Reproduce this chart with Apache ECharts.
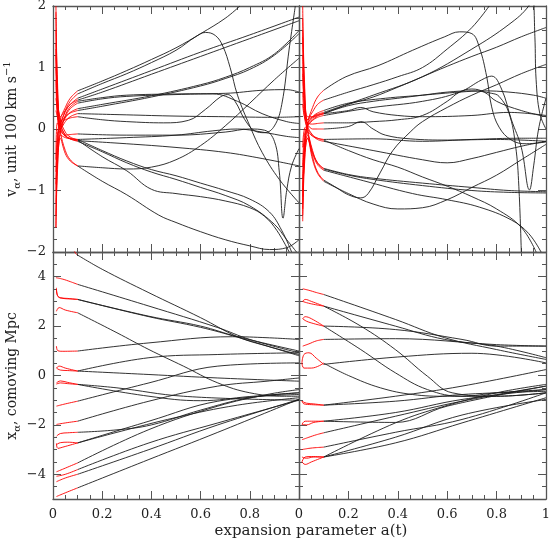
<!DOCTYPE html>
<html>
<head>
<meta charset="utf-8">
<script src="https://cdn.jsdelivr.net/npm/echarts@6.0.0/dist/echarts.min.js"></script>
<style>
html, body { margin: 0; padding: 0; background: #fff; }
#chart { width: 554px; height: 546px; }
</style>
</head>
<body>
<div id="chart"></div>
<script>
// x ticks (expansion parameter) and y ticks for both rows
const aTicks = [0, 0.2, 0.4, 0.6, 0.8, 1];
const vTicks = [-2, -1, 0, 1, 2];
const xTicks = [-4, -2, 0, 2, 4];

// top left: velocities, red = a < 0.1, black = a >= 0.1
const tlRed = [
  [[0.012,-1.2],[0.018,-0.3],[0.03,0.15],[0.05,0.35],[0.07,0.5],[0.1,0.62]],
  [[0.012,1.6],[0.018,0.6],[0.03,0.1],[0.05,0.3],[0.07,0.45],[0.1,0.57]],
  [[0.012,-1.6],[0.018,-0.5],[0.03,0.05],[0.05,0.28],[0.07,0.4],[0.1,0.5]],
  [[0.012,2.0],[0.018,0.8],[0.03,0.2],[0.05,0.3],[0.07,0.4],[0.1,0.47]],
  [[0.012,-0.9],[0.018,-0.2],[0.03,0.1],[0.05,0.2],[0.07,0.26],[0.1,0.3]],
  [[0.012,1.3],[0.018,0.45],[0.03,0.05],[0.05,0.18],[0.07,0.27],[0.1,0.33]],
  [[0.012,-1.4],[0.018,-0.6],[0.03,-0.05],[0.05,0.22],[0.07,0.36],[0.1,0.45]],
  [[0.012,1.0],[0.018,0.3],[0.03,0.0],[0.05,0.2],[0.07,0.33],[0.1,0.42]],
  [[0.012,-0.7],[0.018,-0.1],[0.03,0.1],[0.05,0.15],[0.07,0.18],[0.1,0.2]],
  [[0.012,0.8],[0.018,0.2],[0.03,0.0],[0.05,0.12],[0.07,0.2],[0.1,0.25]],
  [[0.012,1.9],[0.018,0.7],[0.03,0.0],[0.05,-0.1],[0.07,-0.09],[0.1,-0.08]],
  [[0.012,-0.5],[0.018,0.1],[0.03,0.0],[0.05,-0.12],[0.07,-0.15],[0.1,-0.17]],
  [[0.012,1.2],[0.018,0.5],[0.03,0.1],[0.05,-0.1],[0.07,-0.16],[0.1,-0.19]],
  [[0.012,0.5],[0.018,0.3],[0.03,-0.05],[0.05,-0.35],[0.07,-0.5],[0.1,-0.6]],
  [[0.012,-1.6],[0.018,-0.7],[0.03,-0.15],[0.05,-0.4],[0.07,-0.52],[0.1,-0.6]],
  [[0.012,1.4],[0.018,0.5],[0.03,0.15],[0.05,-0.05],[0.07,-0.13],[0.1,-0.18]],
  [[0.012,-1.0],[0.018,-0.4],[0.03,-0.1],[0.05,-0.14],[0.07,-0.16],[0.1,-0.17]],
  [[0.012,0.3],[0.018,0.2],[0.03,0.05],[0.05,-0.1],[0.07,-0.16],[0.1,-0.2]]
];
const tlBlack = [
  [[0.1,0.62],[0.2,0.78],[0.3,0.95],[0.4,1.13],[0.5,1.32],[0.6,1.55],[0.7,1.8],[0.76,2.0]],
  [[0.1,0.57],[0.2,0.74],[0.3,0.9],[0.4,1.08],[0.5,1.28],[0.58,1.5],[0.62,1.57],[0.66,1.52],[0.69,1.35],[0.72,1.0],[0.75,0.55],[0.8,0.05],[0.85,-0.38],[0.92,-0.82],[1.0,-1.2]],
  [[0.1,0.5],[0.2,0.65],[0.4,0.95],[0.6,1.25],[0.8,1.53],[1.0,1.82]],
  [[0.1,0.47],[0.2,0.6],[0.4,0.89],[0.6,1.18],[0.8,1.47],[1.0,1.76]],
  [[0.1,0.3],[0.2,0.37],[0.4,0.52],[0.6,0.7],[0.7,0.82],[0.8,0.97],[0.9,1.2],[1.0,1.55]],
  [[0.1,0.33],[0.2,0.4],[0.4,0.54],[0.6,0.72],[0.7,0.84],[0.8,1.0],[0.9,1.22],[1.0,1.6]],
  [[0.1,0.45],[0.2,0.51],[0.3,0.55],[0.5,0.57],[0.7,0.58],[0.85,0.63],[0.95,0.64],[1.0,0.6]],
  [[0.1,0.42],[0.2,0.49],[0.3,0.53],[0.5,0.56],[0.65,0.57],[0.75,0.45],[0.85,0.25],[0.95,0.12],[1.0,0.09]],
  [[0.1,0.2],[0.2,0.15],[0.3,0.12],[0.45,0.1],[0.55,0.14],[0.62,0.32],[0.68,0.52],[0.71,0.56],[0.74,0.45],[0.78,0.15],[0.82,-0.03],[0.86,-0.06],[0.9,0.05],[0.93,0.4],[0.96,1.3],[0.985,2.0]],
  [[0.1,0.25],[0.3,0.23],[0.5,0.21],[0.7,0.2],[0.9,0.19],[1.0,0.2]],
  [[0.1,-0.08],[0.3,-0.1],[0.5,-0.1],[0.7,-0.05],[0.8,0.0],[0.86,-0.02],[0.9,-0.2],[0.92,-0.7],[0.935,-1.45],[0.95,-1.0],[0.97,-0.6],[1.0,-0.32]],
  [[0.1,-0.17],[0.3,-0.14],[0.5,-0.1],[0.65,-0.03],[0.75,0.0],[0.85,-0.05],[0.95,-0.12],[1.0,-0.14]],
  [[0.1,-0.19],[0.3,-0.24],[0.5,-0.3],[0.7,-0.38],[0.85,-0.48],[1.0,-0.6]],
  [[0.1,-0.6],[0.2,-0.63],[0.3,-0.65],[0.4,-0.62],[0.5,-0.5],[0.6,-0.27],[0.7,0.05],[0.8,0.42],[0.9,0.8],[1.0,1.15]],
  [[0.1,-0.6],[0.2,-0.85],[0.3,-1.07],[0.43,-1.4],[0.5,-1.52],[0.6,-1.67],[0.7,-1.8],[0.8,-1.9],[0.88,-1.96],[0.95,-1.93],[1.0,-1.8]],
  [[0.1,-0.18],[0.2,-0.45],[0.3,-0.68],[0.4,-0.98],[0.5,-1.05],[0.6,-1.1],[0.7,-1.17],[0.8,-1.28],[0.86,-1.42],[0.91,-1.65],[0.96,-2.0]],
  [[0.1,-0.17],[0.2,-0.35],[0.3,-0.52],[0.4,-0.66],[0.5,-0.76],[0.6,-0.88],[0.7,-1.0],[0.8,-1.14],[0.88,-1.35],[0.93,-1.65],[0.97,-2.0]],
  [[0.1,-0.2],[0.2,-0.37],[0.3,-0.55],[0.4,-0.7],[0.5,-0.82],[0.6,-0.95],[0.7,-1.08],[0.8,-1.25],[0.9,-1.55],[0.95,-1.8],[0.99,-2.0]]
];

// top right: velocities
const trRed = [
  [[0.015,-1.4],[0.022,-0.4],[0.035,0.1],[0.055,0.35],[0.075,0.52],[0.1,0.63]],
  [[0.015,1.8],[0.022,0.7],[0.035,0.15],[0.055,0.28],[0.075,0.4],[0.1,0.47]],
  [[0.015,-1.0],[0.022,-0.2],[0.035,0.05],[0.055,0.15],[0.075,0.21],[0.1,0.25]],
  [[0.015,1.2],[0.022,0.5],[0.035,0.15],[0.055,0.2],[0.075,0.24],[0.1,0.27]],
  [[0.015,-0.6],[0.022,-0.1],[0.035,0.05],[0.055,0.14],[0.075,0.19],[0.1,0.22]],
  [[0.015,2.0],[0.022,0.8],[0.035,0.2],[0.055,0.2],[0.075,0.23],[0.1,0.25]],
  [[0.015,1.5],[0.022,0.5],[0.035,0.0],[0.055,-0.35],[0.075,-0.55],[0.1,-0.65]],
  [[0.015,-1.5],[0.022,-0.6],[0.035,-0.15],[0.055,-0.4],[0.075,-0.58],[0.1,-0.67]],
  [[0.015,0.9],[0.022,0.3],[0.035,-0.05],[0.055,-0.45],[0.075,-0.7],[0.1,-0.83]],
  [[0.015,-1.2],[0.022,-0.5],[0.035,-0.15],[0.055,-0.5],[0.075,-0.72],[0.1,-0.85]],
  [[0.015,0.6],[0.022,0.2],[0.035,0.0],[0.055,-0.1],[0.075,-0.15],[0.1,-0.18]],
  [[0.015,-0.8],[0.022,-0.3],[0.035,-0.05],[0.055,-0.12],[0.075,-0.15],[0.1,-0.17]],
  [[0.015,1.0],[0.022,0.4],[0.035,0.05],[0.055,-0.1],[0.075,-0.17],[0.1,-0.2]],
  [[0.015,-1.3],[0.022,-0.4],[0.035,0.08],[0.055,0.2],[0.075,0.26],[0.1,0.3]],
  [[0.015,0.4],[0.022,0.2],[0.035,0.1],[0.055,0.08],[0.075,0.09],[0.1,0.1]],
  [[0.015,-0.3],[0.022,0.0],[0.035,0.05],[0.055,0.0],[0.075,0.0],[0.1,0.0]],
  [[0.015,1.6],[0.022,0.6],[0.035,0.1],[0.055,0.18],[0.075,0.22],[0.1,0.25]],
  [[0.015,-1.1],[0.022,-0.4],[0.035,-0.1],[0.055,-0.38],[0.075,-0.55],[0.1,-0.64]]
];
const trBlack = [
  [[0.1,0.63],[0.19,0.85],[0.32,1.03],[0.46,1.28],[0.59,1.5],[0.65,1.58],[0.7,1.55],[0.73,1.33],[0.76,0.85],[0.78,0.36],[0.81,0.03],[0.86,-0.18],[0.92,-0.24],[1.0,-0.21]],
  [[0.1,0.47],[0.2,0.6],[0.3,0.72],[0.4,0.85],[0.5,1.0],[0.6,1.3],[0.7,1.65],[0.77,2.0]],
  [[0.1,0.25],[0.2,0.4],[0.3,0.52],[0.4,0.68],[0.5,0.85],[0.6,1.02],[0.7,1.18],[0.8,1.33],[0.9,1.5],[1.0,1.65]],
  [[0.1,0.27],[0.3,0.55],[0.5,0.85],[0.7,1.3],[0.85,1.7],[0.93,2.0],[0.945,2.2],[0.955,1.5],[0.96,0.8],[0.975,0.25],[1.0,0.0]],
  [[0.1,0.22],[0.3,0.35],[0.5,0.45],[0.65,0.6],[0.74,0.8],[0.78,0.86],[0.82,0.65],[0.86,0.15],[0.9,-0.3],[0.933,-0.99],[0.95,-0.6],[0.97,0.0],[1.0,0.5]],
  [[0.1,0.25],[0.2,0.38],[0.3,0.45],[0.4,0.5],[0.5,0.55],[0.6,0.6],[0.7,0.62],[0.78,0.58],[0.81,0.53],[0.85,0.26],[0.877,-0.28],[0.89,-0.93],[0.9,-2.0]],
  [[0.1,-0.65],[0.2,-0.75],[0.3,-0.82],[0.5,-0.92],[0.7,-1.0],[0.85,-1.03],[1.0,-1.04]],
  [[0.1,-0.67],[0.26,-0.84],[0.46,-1.05],[0.6,-1.15],[0.73,-1.27],[0.86,-1.48],[0.93,-1.7],[0.98,-2.0]],
  [[0.1,-0.83],[0.15,-0.95],[0.2,-1.07],[0.25,-1.12],[0.28,-1.05],[0.33,-0.7],[0.38,-0.35],[0.45,-0.05],[0.5,0.12],[0.6,0.35],[0.7,0.55],[0.8,0.72],[0.9,0.9],[1.0,1.05]],
  [[0.1,-0.85],[0.2,-1.05],[0.3,-1.22],[0.4,-1.3],[0.5,-1.28],[0.6,-1.15],[0.7,-0.95],[0.8,-0.75],[0.9,-0.5],[1.0,-0.25]],
  [[0.1,-0.18],[0.2,-0.35],[0.3,-0.5],[0.4,-0.62],[0.5,-0.78],[0.6,-0.93],[0.7,-1.1],[0.8,-1.3],[0.9,-1.6],[0.96,-2.0]],
  [[0.1,-0.17],[0.3,-0.16],[0.5,-0.2],[0.7,-0.17],[0.9,-0.15],[1.0,-0.15]],
  [[0.1,-0.2],[0.3,-0.35],[0.5,-0.5],[0.6,-0.55],[0.7,-0.48],[0.8,-0.38],[0.9,-0.28],[1.0,-0.2]],
  [[0.1,0.3],[0.2,0.42],[0.35,0.5],[0.5,0.55],[0.65,0.6],[0.75,0.62],[0.85,0.6],[0.95,0.55],[1.0,0.5]],
  [[0.1,0.1],[0.2,0.1],[0.3,0.12],[0.4,0.15],[0.5,0.22],[0.6,0.45],[0.65,0.6],[0.7,0.65],[0.75,0.6],[0.8,0.45],[0.9,0.3],[1.0,0.2]],
  [[0.1,0.0],[0.2,0.04],[0.25,0.12],[0.3,0.0],[0.35,-0.1],[0.45,-0.16],[0.6,-0.18],[0.8,-0.17],[1.0,-0.2]],
  [[0.1,0.25],[0.2,0.3],[0.25,0.35],[0.3,0.28],[0.4,0.22],[0.5,0.2],[0.7,0.22],[0.85,0.27],[1.0,0.22]],
  [[0.1,-0.64],[0.2,-0.74],[0.3,-0.8],[0.5,-0.88],[0.7,-0.95],[0.85,-1.0],[1.0,-1.02]]
];

// bottom left: comoving positions
const blRed = [
  [[0.07,5.3],[0.085,5.05],[0.096,4.9]],
  [[0.012,3.96],[0.04,3.9],[0.07,3.8],[0.1,3.69]],
  [[0.014,3.55],[0.018,3.25],[0.03,3.15],[0.06,3.12],[0.1,3.08]],
  [[0.014,3.5],[0.02,3.2],[0.04,3.12],[0.07,3.1],[0.1,3.08]],
  [[0.014,2.6],[0.025,2.75],[0.05,2.65],[0.1,2.54]],
  [[0.014,1.19],[0.02,1.0],[0.04,0.98],[0.1,0.99]],
  [[0.014,0.3],[0.025,0.38],[0.05,0.3],[0.1,0.18]],
  [[0.014,0.3],[0.03,0.22],[0.06,0.2],[0.1,0.18]],
  [[0.014,-0.3],[0.03,-0.22],[0.06,-0.28],[0.1,-0.36]],
  [[0.014,-0.35],[0.03,-0.3],[0.06,-0.33],[0.1,-0.36]],
  [[0.014,-1.24],[0.05,-1.15],[0.1,-1.04]],
  [[0.014,-1.98],[0.05,-1.92],[0.1,-1.85]],
  [[0.014,-2.46],[0.03,-2.35],[0.06,-2.32],[0.1,-2.3]],
  [[0.014,-2.75],[0.02,-2.95],[0.04,-2.9],[0.1,-2.73]],
  [[0.014,-2.8],[0.03,-2.72],[0.06,-2.7],[0.1,-2.73]],
  [[0.014,-3.9],[0.05,-3.75],[0.1,-3.54]],
  [[0.014,-4.08],[0.05,-4.0],[0.1,-3.81]],
  [[0.014,-4.3],[0.05,-4.15],[0.1,-4.0]],
  [[0.014,-4.9],[0.05,-4.75],[0.1,-4.55]]
];
const blBlack = [
  [[0.096,4.9],[0.2,4.3],[0.39,3.35],[0.6,2.34],[0.75,1.57],[0.87,1.19],[1.0,0.85]],
  [[0.1,3.69],[0.39,2.81],[0.67,1.94],[0.8,1.46],[1.0,0.92]],
  [[0.1,3.08],[0.39,2.4],[0.6,2.0],[0.75,1.57],[1.0,0.99]],
  [[0.1,3.08],[0.39,2.38],[0.6,1.95],[0.75,1.55],[1.0,0.8]],
  [[0.1,2.54],[0.26,1.73],[0.39,1.05],[0.53,0.38],[0.67,-0.3],[0.8,-0.7],[0.94,-0.84],[1.0,-0.84]],
  [[0.1,0.99],[0.39,1.32],[0.73,1.57],[0.87,1.53],[1.0,1.46]],
  [[0.1,0.18],[0.39,0.72],[0.67,0.85],[1.0,0.92]],
  [[0.1,0.18],[0.39,0.04],[0.67,-0.1],[1.0,-0.23]],
  [[0.1,-0.36],[0.39,-0.84],[0.6,-1.02],[0.8,-0.85],[1.0,-0.7]],
  [[0.1,-0.36],[0.26,-0.5],[0.53,-0.84],[1.0,-1.0]],
  [[0.1,-1.04],[0.39,-0.3],[0.67,0.38],[1.0,0.51]],
  [[0.1,-1.85],[0.39,-1.04],[0.67,-0.43],[0.87,-0.23],[1.0,-0.1]],
  [[0.1,-2.3],[0.26,-2.2],[0.4,-2.0],[0.6,-1.4],[0.8,-0.9],[1.0,-0.7]],
  [[0.1,-2.73],[0.39,-1.85],[0.67,-1.04],[1.0,-0.77]],
  [[0.1,-2.73],[0.26,-2.3],[0.5,-1.7],[0.75,-1.2],[1.0,-0.9]],
  [[0.1,-3.54],[0.39,-2.19],[0.67,-1.24],[0.87,-0.77],[1.0,-0.57]],
  [[0.1,-3.81],[0.39,-2.73],[0.67,-1.92],[1.0,-1.0]],
  [[0.1,-4.0],[0.39,-3.0],[0.67,-2.0],[1.0,-0.97]],
  [[0.1,-4.55],[0.39,-3.4],[0.67,-2.3],[1.0,-0.96]]
];

// bottom right: comoving positions
const brRed = [
  [[0.015,3.51],[0.04,3.45],[0.07,3.36],[0.1,3.28]],
  [[0.015,3.0],[0.025,3.08],[0.05,3.0],[0.1,2.81]],
  [[0.015,3.0],[0.03,2.95],[0.06,2.88],[0.1,2.81]],
  [[0.015,2.3],[0.025,2.38],[0.05,2.3],[0.1,2.0]],
  [[0.015,2.3],[0.03,2.2],[0.06,2.1],[0.1,2.0]],
  [[0.015,1.19],[0.04,1.28],[0.07,1.4],[0.1,1.46]],
  [[0.012,0.5],[0.02,0.85],[0.04,0.92],[0.07,0.7],[0.1,0.45]],
  [[0.012,0.5],[0.02,0.3],[0.05,0.3],[0.1,0.5]],
  [[0.012,-1.04],[0.03,-1.12],[0.06,-1.15],[0.1,-1.2]],
  [[0.012,-1.04],[0.02,-1.15],[0.05,-1.18],[0.1,-1.2]],
  [[0.012,-1.98],[0.025,-1.85],[0.06,-1.85],[0.1,-1.85]],
  [[0.012,-1.98],[0.03,-2.0],[0.06,-1.9],[0.1,-1.85]],
  [[0.012,-2.6],[0.04,-2.5],[0.07,-2.4],[0.1,-2.32]],
  [[0.012,-3.5],[0.025,-3.3],[0.05,-3.28],[0.1,-3.3]],
  [[0.012,-3.5],[0.025,-3.6],[0.05,-3.5],[0.1,-3.3]],
  [[0.012,-3.0],[0.04,-2.95],[0.07,-2.92],[0.1,-2.9]],
  [[0.012,-3.3],[0.03,-3.35],[0.06,-3.3],[0.1,-3.3]]
];
const brBlack = [
  [[0.1,3.28],[0.39,2.27],[0.59,1.53],[0.8,1.05],[1.0,0.65]],
  [[0.1,2.81],[0.39,2.0],[0.59,1.46],[0.8,1.19],[1.0,0.72]],
  [[0.1,2.81],[0.25,2.0],[0.39,1.05],[0.52,-0.03],[0.62,-0.7],[0.8,-0.84],[1.0,-0.7]],
  [[0.1,2.0],[0.39,1.86],[0.66,1.46],[0.8,1.19],[1.0,1.19]],
  [[0.1,2.0],[0.25,1.05],[0.39,0.11],[0.52,-0.57],[0.66,-0.84],[0.8,-0.7],[1.0,-0.57]],
  [[0.1,1.46],[0.39,1.49],[0.8,1.25],[1.0,1.19]],
  [[0.1,0.45],[0.4,0.75],[0.7,0.9],[1.0,0.51]],
  [[0.1,0.5],[0.2,0.0],[0.33,-0.5],[0.46,-0.77],[0.6,-0.84],[0.8,-0.84],[1.0,-0.7]],
  [[0.1,-1.2],[0.39,-0.84],[0.66,-0.43],[1.0,0.24]],
  [[0.1,-1.2],[0.39,-1.04],[0.66,-0.77],[1.0,-0.64]],
  [[0.1,-1.85],[0.39,-1.5],[0.66,-0.97],[1.0,-0.57]],
  [[0.1,-1.85],[0.39,-1.9],[0.6,-1.24],[1.0,-0.43]],
  [[0.1,-2.32],[0.39,-1.65],[0.66,-1.04],[1.0,-0.43]],
  [[0.1,-3.3],[0.39,-1.92],[0.59,-1.24],[0.8,-0.7],[1.0,-0.36]],
  [[0.1,-3.3],[0.39,-2.73],[0.66,-1.92],[1.0,-0.9]],
  [[0.1,-2.9],[0.39,-2.3],[0.66,-1.78],[1.0,-0.7]],
  [[0.1,-3.3],[0.39,-2.5],[0.66,-1.6],[1.0,-0.97]]
];

const FONT = 'DejaVu Serif';
const AXIS = '#555';
const TXT = '#222';

const fmtNum = v => {
  const r = +(+v).toFixed(2);
  return r < 0 ? '\u2212' + (-r) : String(r);
};

// one frame side of a panel
function xAxis(grid, pos, labels, hideLast) {
  return {
    type: 'value', gridIndex: grid, position: pos,
    min: aTicks[0], max: aTicks[aTicks.length - 1], interval: 0.2,
    axisLine: { onZero: false, lineStyle: { color: AXIS, width: 1.3 } },
    axisTick: { inside: true, length: 8, lineStyle: { color: AXIS } },
    minorTick: { show: true, splitNumber: 4, length: 4, lineStyle: { color: AXIS } },
    splitLine: { show: false },
    axisLabel: {
      show: labels, margin: 9, fontSize: 13, fontFamily: FONT, color: TXT,
      formatter: v => (hideLast && Math.abs(v - 1) < 1e-6) ? '' : fmtNum(v)
    }
  };
}

function vAxis(grid, pos, labels) {
  return {
    type: 'value', gridIndex: grid, position: pos,
    min: vTicks[0], max: vTicks[vTicks.length - 1], interval: 1,
    axisLine: { onZero: false, lineStyle: { color: AXIS, width: 1.3 } },
    axisTick: { inside: true, length: 8, lineStyle: { color: AXIS } },
    minorTick: { show: true, splitNumber: 5, length: 4, lineStyle: { color: AXIS } },
    splitLine: { show: false },
    axisLabel: { show: labels, margin: 7, fontSize: 13, fontFamily: FONT, color: TXT, formatter: fmtNum }
  };
}

// bottom row: short ticks every 0.5, then an overlay axis for the long ticks at 4, 2, 0 ...
function xMinorAxis(grid, pos) {
  return {
    type: 'value', gridIndex: grid, position: pos,
    min: -5, max: 5, interval: 0.5,
    axisLine: { onZero: false, lineStyle: { color: AXIS, width: 1.3 } },
    axisTick: { inside: true, length: 4, lineStyle: { color: AXIS } },
    splitLine: { show: false },
    axisLabel: { show: false }
  };
}
function xMajorAxis(grid, pos, labels) {
  return {
    type: 'value', gridIndex: grid, position: pos,
    min: -5, max: 5, interval: 0.5,
    axisLine: { show: false, onZero: false },
    axisTick: { inside: true, length: 8, customValues: xTicks, lineStyle: { color: AXIS } },
    splitLine: { show: false },
    axisLabel: { show: labels, customValues: xTicks, margin: 7, fontSize: 13, fontFamily: FONT, color: TXT, formatter: fmtNum }
  };
}

const grids = [
  { left: 53, top: 6, width: 246, height: 246 },
  { left: 299, top: 6, width: 247, height: 246 },
  { left: 53, top: 252, width: 246, height: 247 },
  { left: 299, top: 252, width: 247, height: 247 }
].map(g => Object.assign({ containLabel: false, outerBoundsMode: 'none' }, g));

const xAxes = [
  xAxis(0, 'bottom', false, true), xAxis(0, 'top', false, false),
  xAxis(1, 'bottom', false, false), xAxis(1, 'top', false, false),
  xAxis(2, 'bottom', true, true), xAxis(2, 'top', false, false),
  xAxis(3, 'bottom', true, false), xAxis(3, 'top', false, false)
];
const yAxes = [
  vAxis(0, 'left', true), vAxis(0, 'right', false),
  vAxis(1, 'left', false), vAxis(1, 'right', false),
  xMinorAxis(2, 'left'), xMinorAxis(2, 'right'), xMajorAxis(2, 'left', true), xMajorAxis(2, 'right', false),
  xMinorAxis(3, 'left'), xMinorAxis(3, 'right'), xMajorAxis(3, 'left', false), xMajorAxis(3, 'right', false)
];

const series = [];
function addPanel(red, black, xi, yi) {
  const line = (pts, color) => ({
    type: 'line', xAxisIndex: xi, yAxisIndex: yi, data: pts,
    showSymbol: false, smooth: 0.4, silent: true,
    lineStyle: { color: color, width: 0.9 }
  });
  black.forEach(p => series.push(line(p, '#1c1c1c')));
  red.forEach(p => series.push(line(p, '#ff0000')));
}
addPanel(tlRed, tlBlack, 0, 0);
addPanel(trRed, trBlack, 2, 2);
addPanel(blRed, blBlack, 4, 4);
addPanel(brRed, brBlack, 6, 8);

const nameFont = { fontSize: 14, fontFamily: FONT, fill: TXT };
const rich = {
  n: { fontSize: 14, fontFamily: FONT, lineHeight: 20 },
  s: { fontSize: 10, fontFamily: FONT, verticalAlign: 'bottom', lineHeight: 10 },
  p: { fontSize: 10, fontFamily: FONT, verticalAlign: 'top', lineHeight: 10 }
};

const chart = echarts.init(document.getElementById('chart'));
chart.setOption({
  animation: false,
  backgroundColor: '#fff',
  grid: grids,
  xAxis: xAxes,
  yAxis: yAxes,
  series: series,
  graphic: [
    { type: 'text', x: 12, y: 129, rotation: Math.PI / 2,
      style: Object.assign({ text: '{n|v}{s|\u03b1}{n|, unit 100 km s}{p|\u22121}', rich: rich, align: 'center', verticalAlign: 'middle' }, nameFont) },
    { type: 'text', x: 12, y: 376, rotation: Math.PI / 2,
      style: Object.assign({ text: '{n|x}{s|\u03b1}{n|, comoving Mpc}', rich: rich, align: 'center', verticalAlign: 'middle' }, nameFont) },
    { type: 'text', x: 311, y: 531,
      style: Object.assign({ text: 'expansion parameter a(t)', align: 'center', verticalAlign: 'middle' }, nameFont, { fontSize: 15 }) }
  ]
});
</script>
</body>
</html>
